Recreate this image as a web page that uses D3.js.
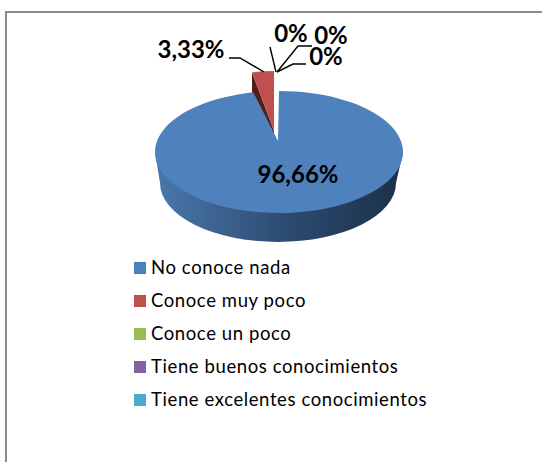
<!DOCTYPE html>
<html>
<head>
<meta charset="utf-8">
<script src="https://cdn.jsdelivr.net/npm/d3@7"></script>
<style>
  body { margin: 0; background: #fff; }
  text { font-family: Lato, "Open Sans", sans-serif; fill: #000; }
</style>
</head>
<body>
<div id="chart"></div>
<script>
const categories = ["No conoce nada", "Conoce muy poco", "Conoce un poco", "Tiene buenos conocimientos", "Tiene excelentes conocimientos"];
const values = [96.66, 3.33, 0, 0, 0];
const valueLabels = ["96,66%", "3,33%", "0%", "0%", "0%"];
const colors = ["#4f81bd", "#c0504d", "#9bbb59", "#8064a2", "#4bacc6"];

const width = 542, height = 462;

const svg = d3.select("#chart").append("svg")
  .attr("width", width)
  .attr("height", height)
  .style("display", "block");

// frame around the chart, it runs off the right and bottom of the picture
svg.append("rect")
  .attr("x", 6).attr("y", 12)
  .attr("width", 560).attr("height", 470)
  .attr("fill", "#fff")
  .attr("stroke", "#8c8c8c")
  .attr("stroke-width", 2);

const pie = d3.pie().value(d => d).sort(null);
const slices = pie(values);

// Tilted pie: a point on the rim of an ellipse
function rim(e, a) {
  return [e.cx + e.rx * Math.sin(a), e.cy - e.ry * Math.cos(a)];
}

function wedge(e, apex, d) {
  const p0 = rim(e, d.startAngle), p1 = rim(e, d.endAngle);
  const large = d.endAngle - d.startAngle > Math.PI ? 1 : 0;
  return `M${apex}L${p0}A${e.rx},${e.ry} 0 ${large} 1 ${p1}Z`;
}

const blueTop = { cx: 279, cy: 152, rx: 124, ry: 61 };
const blueBase = { cx: 278, cy: 183, rx: 118, ry: 59 };
const blueApex = [278, 141];
const redTop = { cx: 274, cy: 132, rx: 106, ry: 61 };
const redApex = [274, 131];
const depth = 30;

const defs = svg.append("defs");
const grad = defs.append("linearGradient").attr("id", "sideBlue");
grad.append("stop").attr("offset", "0%").attr("stop-color", "#4a78ad");
grad.append("stop").attr("offset", "55%").attr("stop-color", "#2c4a6e");
grad.append("stop").attr("offset", "100%").attr("stop-color", "#1c3048");

// side of the big slice
const l0 = rim(blueTop, -Math.PI / 2), r0 = rim(blueTop, Math.PI / 2);
const l1 = rim(blueBase, -Math.PI / 2), r1 = rim(blueBase, Math.PI / 2);
svg.append("path")
  .attr("d", `M${l0}L${l1}A${blueBase.rx},${blueBase.ry} 0 0 0 ${r1}L${r0}Z`)
  .attr("fill", "url(#sideBlue)");

// side of the small slice, the big one is painted over it
const redLeft = rim(redTop, slices[1].startAngle);
svg.append("path")
  .attr("d", `M${redApex}L${redLeft}L${[redLeft[0], redLeft[1] + depth]}L${[redApex[0], redApex[1] + depth]}Z`)
  .attr("fill", "#4f1f1e");

svg.append("path")
  .attr("d", wedge(blueTop, blueApex, slices[0]))
  .attr("fill", colors[0]);

svg.append("path")
  .attr("d", wedge(redTop, redApex, slices[1]))
  .attr("fill", colors[1]);

// data labels
const labelPos = [[298, 183], [191, 58], [291, 42], [331, 44], [326, 65]];
svg.selectAll(".value-label")
  .data(valueLabels)
  .enter()
  .append("text")
  .attr("class", "value-label")
  .attr("x", (d, i) => labelPos[i][0])
  .attr("y", (d, i) => labelPos[i][1])
  .attr("text-anchor", "middle")
  .style("font-size", "24px")
  .style("font-weight", "700")
  .text(d => d);

// leader lines
const leaders = [
  [[229, 58], [240, 58], [264, 72]],
  [[270, 47], [276, 72]],
  [[312, 46], [298, 46], [277, 72]],
  [[306, 64], [293, 64], [277, 72]]
];
const line = d3.line();
svg.selectAll(".leader")
  .data(leaders)
  .enter()
  .append("path")
  .attr("class", "leader")
  .attr("d", line)
  .attr("fill", "none")
  .attr("stroke", "#000")
  .attr("stroke-width", 1.4);

// legend
const legendY = d3.scalePoint().domain(categories).range([268, 400]);
const legend = svg.selectAll(".legend")
  .data(categories)
  .enter()
  .append("g")
  .attr("class", "legend")
  .attr("transform", d => `translate(134,${legendY(d)})`);

legend.append("rect")
  .attr("y", -6)
  .attr("width", 12)
  .attr("height", 12)
  .attr("fill", (d, i) => colors[i]);

legend.append("text")
  .attr("x", 17)
  .attr("y", 6)
  .style("font-size", "18.5px")
  .style("letter-spacing", "0.6px")
  .text(d => d);
</script>
</body>
</html>
